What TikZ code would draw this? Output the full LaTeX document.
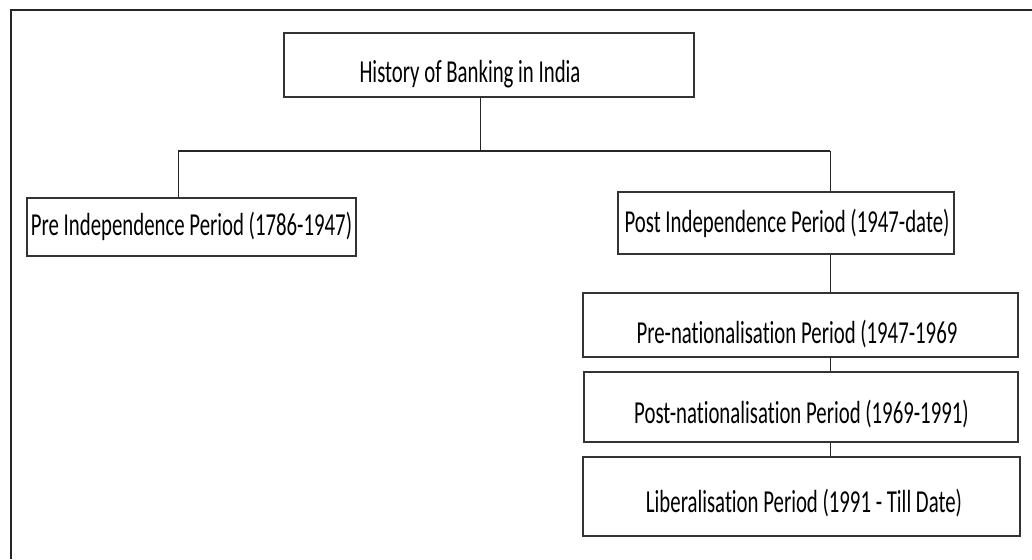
\documentclass[tikz,border=0pt]{standalone}
\usepackage{fontspec}
\newfontfamily\boxfont[FakeStretch=0.65, Ligatures={NoCommon}]{Carlito}
\tikzset{
  box/.style={draw=black!80, line width=1.6pt, inner sep=0pt, fill=white},
  txt/.style={anchor=base, inner sep=0pt, font=\boxfont\fontsize{32}{33}\selectfont, text=black},
  conn/.style={draw=black!85, line width=1pt},
  bar/.style={draw=black!85, line width=2pt},
  frame/.style={draw=black!85, line width=1.6pt}
}
\begin{document}
\begin{tikzpicture}[x=1pt,y=-1pt]
\useasboundingbox (0,0) rectangle (1032,559);
\fill[white] (0,0) rectangle (1032,559);
% outer frame (continues beyond the picture)
\draw[frame] (11,559) -- (11,10) -- (1032,10);
% boxes
\node[box, minimum width=410pt, minimum height=64pt] (title) at (489,65) {};
\node[box, minimum width=329pt, minimum height=58pt] (pre) at (191.5,227) {};
\node[box, minimum width=336pt, minimum height=62pt] (post) at (786,223) {};
\node[box, minimum width=435pt, minimum height=64pt] (prenat) at (800.5,325) {};
\node[box, minimum width=434pt, minimum height=70pt] (postnat) at (801,407) {};
\node[box, minimum width=437pt, minimum height=79pt] (lib) at (801.5,496.5) {};
% texts
\node[txt] (ttitle) at (470,83) {History of Banking in India};
\node[txt] (tpre) at (191.5,235) {Pre Independence Period (1786-1947)};
\node[txt] (tpost) at (787,232) {Post Independence Period (1947-date)};
\node[txt] (tprenat) at (797,343) {Pre-nationalisation Period (1947-1969};
\node[txt] (tpostnat) at (801.5,423) {Post-nationalisation Period (1969-1991)};
\node[txt] (tlib) at (804,512) {Liberalisation Period (1991 - Till Date)};
% connectors
\coordinate (j) at (480,151);
\coordinate (jl) at (178,151);
\coordinate (jr) at (830,151);
\draw[conn] (title.south -| j) -- (j);
\draw[bar] (jl) -- (jr);
\draw[conn] (jl) -- (jl |- pre.north);
\draw[conn] (jr) -- (jr |- post.north);
\draw[conn] (post.south -| jr) -- (prenat.north -| jr);
\draw[conn] (prenat.south -| jr) -- (postnat.north -| jr);
\draw[conn] (postnat.south -| jr) -- (lib.north -| jr);
\end{tikzpicture}
\end{document}
